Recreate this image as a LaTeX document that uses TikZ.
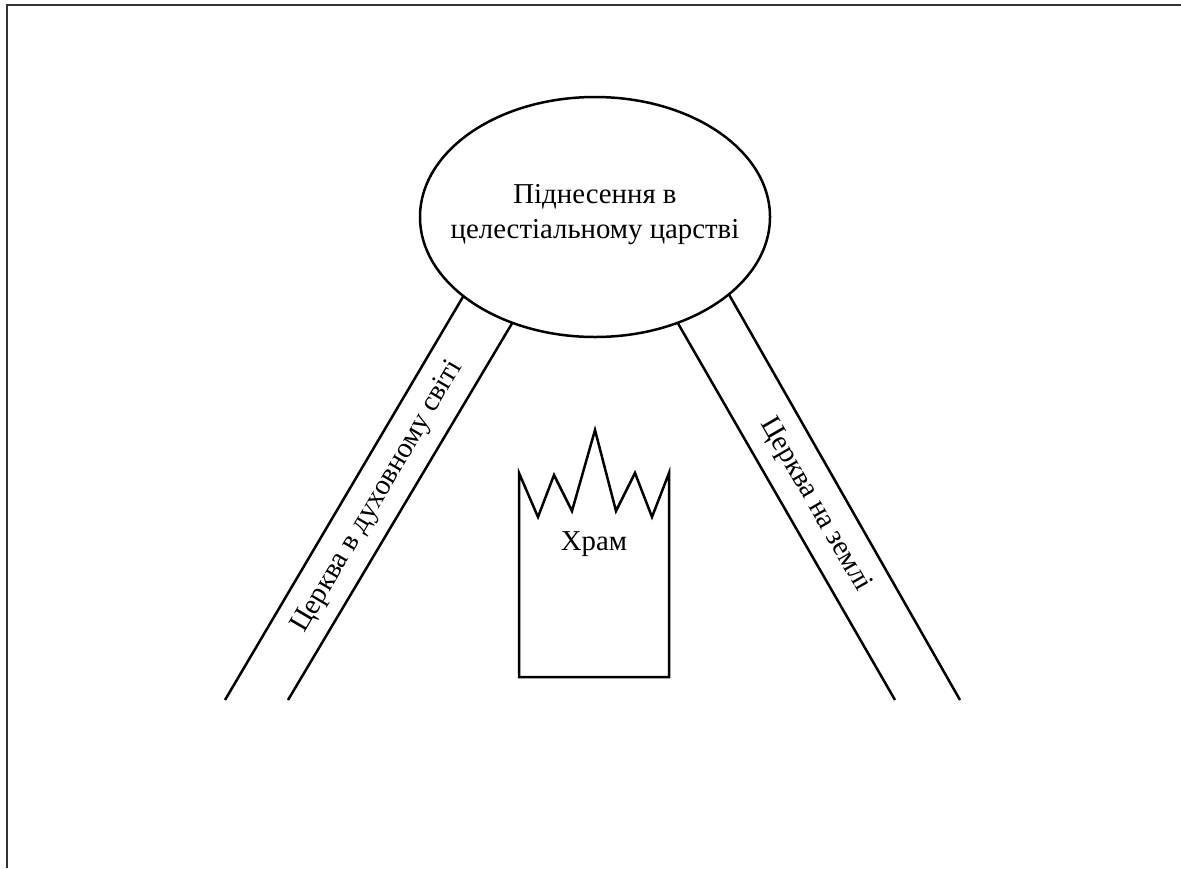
\documentclass[tikz,border=0pt]{standalone}
\usepackage{fontspec}
\setmainfont{Liberation Serif}
\usetikzlibrary{shapes.geometric}
\begin{document}
\begin{tikzpicture}[x=0.5pt,y=-0.5pt,line width=1.25pt,font=\fontsize{14.4}{17.5}\selectfont]
 \useasboundingbox (0,0) rectangle (1181,868);
 \draw[line width=1pt,black!80] (6.5,868)--(6.5,5)--(1181,5); %рамка
 \node[draw,ellipse,minimum width=175pt,minimum height=120pt,inner sep=0pt,outer sep=0pt] (sky) at (595,217) {}; %небо
 \node[align=center] (skytext) at (595,215) {Піднесення в\\целестіальному царстві};
 \coordinate (lo) at (225,700); \coordinate (li) at (288,700);
 \coordinate (ri) at (895,700); \coordinate (ro) at (960,700);
 \draw (sky.211)--(lo); \draw (sky.232)--(li); %ліва смуга
 \draw (sky.308)--(ri); \draw (sky.330)--(ro); %права смуга
 \node[rotate=59.5] (spirit) at (378,497) {Церква в духовному світі};
 \node[rotate=-60] (earth) at (815,505) {Церква на землі};
 \draw (519,473)--(538,517)--(554,475)--(572,511)--(595,430)--(616,511)--(635,473)--(652,517)--(669,473)--(669,677)--(519,677)--cycle; %храм
 \node (temple) at (594,544) {Храм};
\end{tikzpicture}
\end{document}
